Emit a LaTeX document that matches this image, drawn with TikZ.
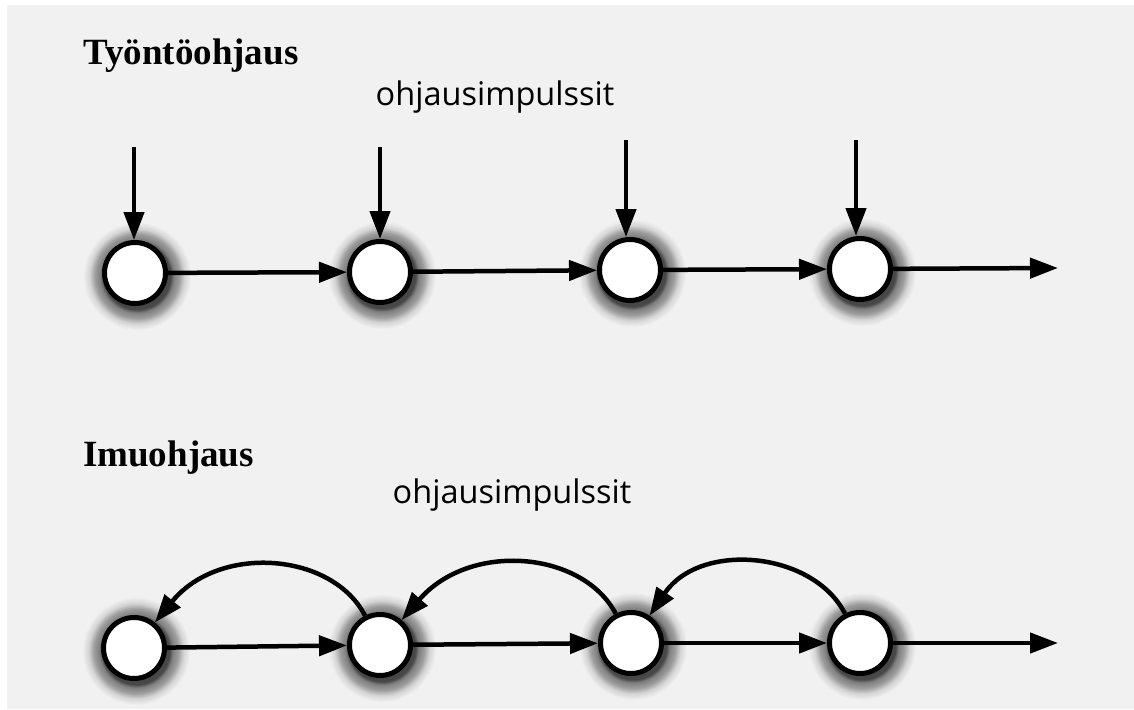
\documentclass[tikz,border=0pt]{standalone}
\usepackage{fontspec}
\setmainfont{Liberation Serif}
\newfontfamily\labelfont{Open Sans}
\usetikzlibrary{arrows.meta}
\definecolor{paper}{RGB}{241,241,241}
\pgfdeclareradialshading{glow}{\pgfpoint{0bp}{0bp}}{color(0bp)=(black!75); color(15.5bp)=(black!72); color(17bp)=(black!50); color(19.5bp)=(paper!65!black); color(22bp)=(paper!88!black); color(25bp)=(paper); color(50bp)=(paper)}
\pgfdeclarelayer{back}
\pgfsetlayers{back,main}
\tikzset{
  state/.style={circle, draw=black, line width=5pt, fill=white, inner sep=0pt, minimum size=61pt},
  flow/.style={line width=4.5pt, -{Triangle[length=28pt,width=20pt]}},
  title/.style={font=\fontsize{37}{40}\selectfont\bfseries, anchor=base west, inner sep=0pt},
  lbl/.style={font=\labelfont\fontsize{32.5}{36}\selectfont, anchor=base, inner sep=0pt}
}
\begin{document}
\begin{tikzpicture}[x=1pt,y=-1pt]
\useasboundingbox (0,0) rectangle (1134,709);
% titles and labels
\node[title] (t1) at (83,64) {Työntöohjaus};
\node[title] (t2) at (83,466) {Imuohjaus};
\node[lbl] (l1) at (495,105) {ohjausimpulssit};
\node[lbl] (l2) at (512,503) {ohjausimpulssit};
% top row
\node[state] (a1) at (135,273) {};
\node[state] (a2) at (380,272) {};
\node[state] (a3) at (630,270) {};
\node[state] (a4) at (860,269) {};
\coordinate (p1) at (134,147);
\coordinate (p2) at (380,147);
\coordinate (p3) at (626,140);
\coordinate (p4) at (856,140);
\coordinate (e1) at (1058,268);
\draw[flow] (p1) -- (p1 |- a1.north);
\draw[flow] (p2) -- (p2 |- a2.north);
\draw[flow] (p3) -- (p3 |- a3.north);
\draw[flow] (p4) -- (p4 |- a4.north);
\draw[flow] (a1) -- (a2);
\draw[flow] (a2) -- (a3);
\draw[flow] (a3) -- (a4);
\draw[flow] (a4) -- (e1);
% bottom row
\node[state] (b1) at (134,648) {};
\node[state] (b2) at (380,645) {};
\node[state] (b3) at (631,643) {};
\node[state] (b4) at (860,643) {};
\coordinate (e2) at (1058,643);
\draw[flow] (b1) -- (b2);
\draw[flow] (b2) -- (b3);
\draw[flow] (b3) -- (b4);
\draw[flow] (b4) -- (e2);
\draw[flow] (b2) .. controls (333,553) and (220,543) .. (b1);
\draw[flow] (b3) .. controls (583,551) and (470,541) .. (b2);
\draw[flow] (b4) .. controls (813,551) and (700,541) .. (b3);
% background and shadows
\begin{pgfonlayer}{back}
  \fill[white] (0,0) rectangle (1134,709);
  \fill[paper] (7,5) rectangle (1134,709);
  \foreach \n in {a1,a2,a3,a4,b1,b2,b3,b4}
    \shade[shading=glow] ([xshift=2pt,yshift=-3pt]\n.center) circle (54pt);
\end{pgfonlayer}
\end{tikzpicture}
\end{document}
